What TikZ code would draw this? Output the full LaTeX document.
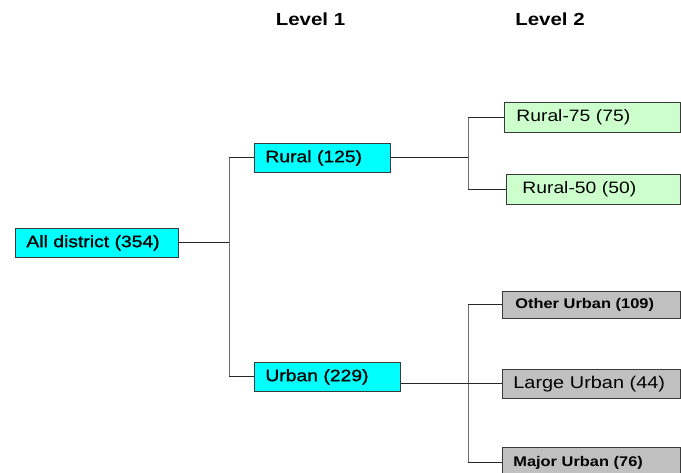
\documentclass[tikz,border=0pt]{standalone}
\usepackage{fontspec}
\setmainfont{Liberation Sans}[FakeStretch=1.17]
\newfontfamily\heavy{Liberation Sans}[FakeStretch=1.17,FakeBold=1.2]
\definecolor{cyanbox}{HTML}{00FFFF}
\definecolor{greenbox}{HTML}{CCFFCC}
\definecolor{graybox}{HTML}{C0C0C0}
\definecolor{boxline}{HTML}{3A3A3A}
\definecolor{linegray}{HTML}{6E6E6E}
\begin{document}
\begin{tikzpicture}[x=1pt,y=-1pt,
  box/.style={draw=boxline, line width=0.8pt, anchor=north west, inner ysep=0pt, align=left},
  lvlone/.style={box, fill=cyanbox, font=\heavy\fontsize{16.5}{18}\selectfont},
  rur/.style={box, fill=greenbox, font=\fontsize{16.5}{18}\selectfont},
  urb/.style={box, fill=graybox},
  head/.style={font=\bfseries\fontsize{17.5}{19}\selectfont, inner sep=0pt},
  vline/.style={draw=linegray, line width=1pt},
  hline/.style={draw=black!85, line width=0.9pt}]
\clip (0,0) rectangle (681,473);
\fill[white] (0,0) rectangle (681,473);

\node[head] (h1) at (310.5,19) {Level 1};
\node[head] (h2) at (550,19) {Level 2};

\node[lvlone, minimum width=163pt, minimum height=29pt, inner xsep=11pt, text width=141pt] (all) at (15,228) {All district (354)};
\node[lvlone, minimum width=136pt, minimum height=29pt, inner xsep=11pt, text width=114pt] (rural) at (254,143) {Rural (125)};
\node[lvlone, minimum width=146pt, minimum height=29pt, inner xsep=11pt, text width=124pt] (urban) at (254,362) {Urban (229)};

\node[rur, minimum width=176pt, minimum height=30pt, inner xsep=12pt, text width=152pt] (r75) at (504,102) {Rural-75 (75)};
\node[rur, minimum width=174pt, minimum height=30pt, inner xsep=16pt, text width=142pt] (r50) at (506,174) {Rural-50 (50)};

\node[urb, font=\bfseries\fontsize{14}{16}\selectfont, minimum width=178pt, minimum height=27pt, inner xsep=13pt, text width=152pt] (other) at (502,291) {Other Urban (109)};
\node[urb, font=\fontsize{17}{19}\selectfont, minimum width=178pt, minimum height=29pt, inner xsep=11pt, text width=156pt] (large) at (502,369) {Large Urban (44)};
\node[urb, font=\bfseries\fontsize{14}{16}\selectfont, minimum width=178pt, minimum height=30pt, inner xsep=11pt, text width=156pt] (major) at (502,447) {Major Urban (76)};

\coordinate (b1) at (229,0);
\coordinate (b2) at (468,0);
\coordinate (b3) at (468,0);

% level 0 -> level 1
\draw[vline] (rural.west -| b1) -- (urban.west -| b1);
\draw[hline] (all.east) -- (all.east -| b1);
\draw[hline] (rural.west -| b1) -- (rural.west);
\draw[hline] (urban.west -| b1) -- (urban.west);

% rural -> level 2
\draw[vline] (r75.west -| b2) -- (r50.west -| b2);
\draw[hline] (rural.east) -- (rural.east -| b2);
\draw[hline] (r75.west -| b2) -- (r75.west);
\draw[hline] (r50.west -| b2) -- (r50.west);

% urban -> level 2
\draw[vline] (other.west -| b3) -- (major.west -| b3);
\draw[hline] (urban.east |- large.west) -- (large.west);
\draw[hline] (other.west -| b3) -- (other.west);
\draw[hline] (major.west -| b3) -- (major.west);
\end{tikzpicture}
\end{document}
